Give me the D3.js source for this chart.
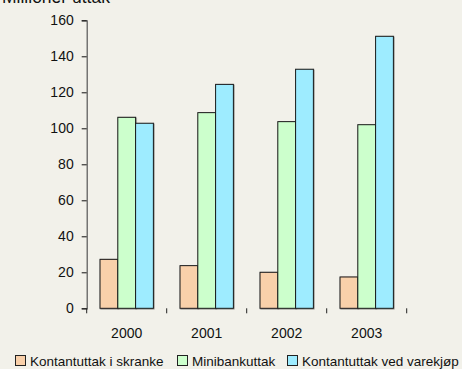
<!DOCTYPE html>
<html>
<head>
<meta charset="utf-8">
<script src="https://cdn.jsdelivr.net/npm/d3@7"></script>
<style>
  html, body { margin: 0; padding: 0; background: #f2f1ea; }
  svg { display: block; }
  text { font-family: "Liberation Sans", Arial, sans-serif; fill: #111; }
</style>
</head>
<body>
<svg id="chart" width="462" height="369"></svg>
<script>
// Cash withdrawals in Norway, millions of transactions per year
const years = ["2000", "2001", "2002", "2003"];
const seriesNames = ["Kontantuttak i skranke", "Minibankuttak", "Kontantuttak ved varekjøp"];
const skranke = [27.2, 23.7, 20.0, 17.4];
const minibank = [106.1, 108.7, 103.7, 102.0];
const varekjop = [102.8, 124.4, 132.8, 151.1];
const yTicks = [0, 20, 40, 60, 80, 100, 120, 140, 160];
const colors = ["#f9d0aa", "#ccffcc", "#9eecff"];

const seriesValues = [skranke, minibank, varekjop];
const svg = d3.select("#chart");

const x0 = d3.scaleBand().domain(years).range([86.7, 406.7]).paddingInner(0.333).paddingOuter(0.1665);
const x1 = d3.scaleBand().domain(d3.range(seriesNames.length)).range([0, x0.bandwidth()]);
const y = d3.scaleLinear().domain([0, 160]).range([308.3, 20.3]);

// soft shadow under bars and axis
const defs = svg.append("defs");
const f = defs.append("filter").attr("id", "shadow").attr("x", "-20%").attr("y", "-20%").attr("width", "140%").attr("height", "140%");
f.append("feDropShadow").attr("dx", 0.6).attr("dy", 0.6).attr("stdDeviation", 0.7).attr("flood-color", "#000").attr("flood-opacity", 0.45);

// title (partly above the top edge)
svg.append("text").attr("x", 2).attr("y", 2.5).attr("font-size", 17.5).text("Millioner uttak");

// y axis
const yAxis = svg.append("g").attr("transform", "translate(86.7,0)")
  .call(d3.axisLeft(y).tickValues(yTicks).tickSize(5).tickPadding(8));
yAxis.select(".domain").attr("stroke", "#555").attr("stroke-width", 1.2);
yAxis.selectAll(".tick line").attr("stroke", "#111");
yAxis.selectAll("text").attr("font-size", 14).attr("fill", "#111")
  .attr("font-family", "'Liberation Sans', Arial, sans-serif");

// bars
const groups = svg.append("g").selectAll("g").data(years).join("g")
  .attr("transform", d => `translate(${x0(d)},0)`);
groups.selectAll("rect")
  .data((d, i) => seriesValues.map((vals, s) => ({ s, v: vals[i] })))
  .join("rect")
  .attr("x", d => x1(d.s))
  .attr("y", d => y(d.v))
  .attr("width", x1.bandwidth())
  .attr("height", d => y(0) - y(d.v))
  .attr("fill", d => colors[d.s])
  .attr("stroke", "#1a1a1a")
  .attr("stroke-width", 1)
  .attr("filter", "url(#shadow)");

// x axis with ticks between categories
const xAxisG = svg.append("g").attr("transform", `translate(0,${y(0)})`);
xAxisG.append("line").attr("x1", 86.7).attr("x2", 406.7).attr("y1", 0).attr("y2", 0)
  .attr("stroke", "#222").attr("stroke-width", 1.2).attr("filter", "url(#shadow)");
const boundaries = years.map(d => x0(d) - x0.step() * x0.paddingInner() / 2).concat([406.7]);
boundaries[0] = 86.7;
xAxisG.selectAll("line.tk").data(boundaries).join("line").attr("class", "tk")
  .attr("x1", d => d).attr("x2", d => d).attr("y1", 0).attr("y2", 5).attr("stroke", "#222");
xAxisG.selectAll("text").data(years).join("text")
  .attr("x", d => x0(d) + x0.bandwidth() / 2).attr("y", 30)
  .attr("text-anchor", "middle").attr("font-size", 14).text(d => d);

// legend
const legendX = [15, 177, 287];
const legend = svg.append("g").selectAll("g").data(seriesNames).join("g")
  .attr("transform", (d, i) => `translate(${legendX[i]},355)`);
legend.append("rect").attr("x", 0.5).attr("y", 0.5).attr("width", 10).attr("height", 10)
  .attr("fill", (d, i) => colors[i]).attr("stroke", "#222");
legend.append("text").attr("x", 15).attr("y", 10.5).attr("font-size", 13.5).text(d => d);
</script>
</body>
</html>
